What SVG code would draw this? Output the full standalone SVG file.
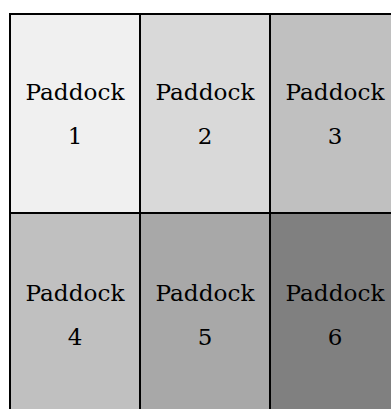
<svg xmlns="http://www.w3.org/2000/svg" width="391" height="409" viewBox="0 0 391 409">
<style>
.cell{stroke:#000;stroke-width:2}
.t{font-family:"DejaVu Serif","Liberation Serif",serif;font-size:23px;fill:#000;text-anchor:middle}
</style>
<rect width="391" height="409" fill="#fff"/>
<g id="p1"><rect class="cell" x="10" y="14" width="130" height="199" fill="#f0f0f0"/><text class="t" x="75" y="100" textLength="99" lengthAdjust="spacingAndGlyphs">Paddock</text><text class="t" x="75" y="144">1</text></g>
<g id="p2"><rect class="cell" x="140" y="14" width="130" height="199" fill="#d9d9d9"/><text class="t" x="205" y="100" textLength="99" lengthAdjust="spacingAndGlyphs">Paddock</text><text class="t" x="205" y="144">2</text></g>
<g id="p3"><rect class="cell" x="270" y="14" width="130" height="199" fill="#c0c0c0"/><text class="t" x="335" y="100" textLength="99" lengthAdjust="spacingAndGlyphs">Paddock</text><text class="t" x="335" y="144">3</text></g>
<g id="p4"><rect class="cell" x="10" y="213" width="130" height="205" fill="#c0c0c0"/><text class="t" x="75" y="301" textLength="99" lengthAdjust="spacingAndGlyphs">Paddock</text><text class="t" x="75" y="345">4</text></g>
<g id="p5"><rect class="cell" x="140" y="213" width="130" height="205" fill="#a8a8a8"/><text class="t" x="205" y="301" textLength="99" lengthAdjust="spacingAndGlyphs">Paddock</text><text class="t" x="205" y="345">5</text></g>
<g id="p6"><rect class="cell" x="270" y="213" width="130" height="205" fill="#808080"/><text class="t" x="335" y="301" textLength="99" lengthAdjust="spacingAndGlyphs">Paddock</text><text class="t" x="335" y="345">6</text></g>
<g id="connectors"></g>
</svg>
